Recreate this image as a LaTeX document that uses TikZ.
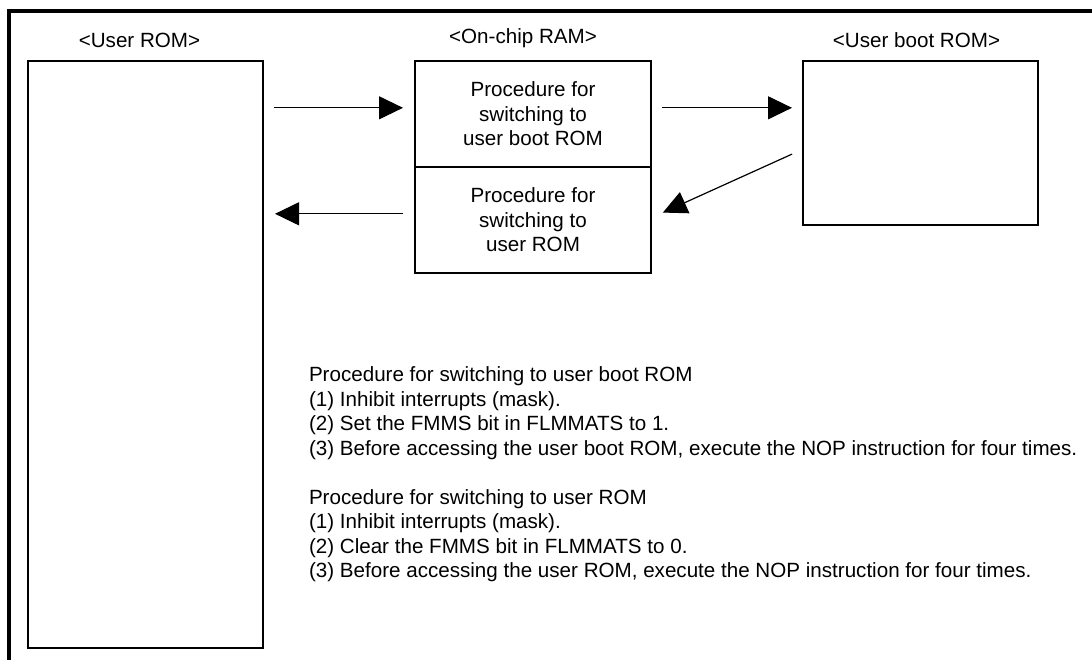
\documentclass[tikz,border=0pt]{standalone}
\usepackage{fontspec}
\setmainfont{Liberation Sans}
\usetikzlibrary{positioning,arrows.meta}

\begin{document}
\begin{tikzpicture}[
    x=1pt, y=-1pt,
    every node/.style={
        inner sep=0pt,
        outer sep=0pt,
        font=\fontsize{20.6}{24.5}\selectfont
    },
    memory/.style={
        draw,
        line width=2.5pt,
        align=center
    },
    arrow/.style={-{Triangle[length=24pt,width=23pt]}, line width=1.2pt}
]

\useasboundingbox (0,0) rectangle (1092,660);
\draw[line width=3.2pt] (9,660) -- (9,11) -- (1092,11);

\node (userrom) [memory, minimum width=235pt, minimum height=587pt,
    anchor=north west] at (28,61) {};

\node (ramboot) [memory, minimum width=236pt, minimum height=106pt,
    anchor=north west] at (415,61)
    {Procedure for\\switching to\\user boot ROM};

\node (ramuser) [memory, minimum width=236pt, minimum height=106pt,
    below=0pt of ramboot]
    {Procedure for\\switching to\\user ROM};

\node (bootrom) [memory, minimum width=235pt, minimum height=164pt,
    anchor=north west] at (803,61) {};

\node (userromlabel) [above=13pt of userrom.north, xshift=-6pt] {<User ROM>};
\node (ramlabel) [above=13pt of ramboot.north, xshift=-10pt] {<On-chip RAM>};
\node (bootromlabel) [above=13pt of bootrom.north, xshift=-4pt] {<User boot ROM>};

\node (steps) [anchor=north west, align=left] at (309,367)
    {Procedure for switching to user boot ROM\\
     (1) Inhibit interrupts (mask).\\
     (2) Set the FMMS bit in FLMMATS to 1.\\
     (3) Before accessing the user boot ROM, execute the NOP instruction for four times.\\[24.5pt]
     Procedure for switching to user ROM\\
     (1) Inhibit interrupts (mask).\\
     (2) Clear the FMMS bit in FLMMATS to 0.\\
     (3) Before accessing the user ROM, execute the NOP instruction for four times.};

\draw[arrow, shorten <=11pt, shorten >=12pt] (userrom.east |- ramboot.177) -- (ramboot.177);
\draw[arrow, shorten <=11pt, shorten >=11pt] (ramboot.3) -- (ramboot.3 -| bootrom.west);
\draw[arrow, shorten <=12pt, shorten >=13pt] (bootrom.183) -- (ramuser.1);
\draw[arrow, shorten <=12pt, shorten >=12pt] (ramuser.177) -- (userrom.east |- ramuser.177);

\end{tikzpicture}
\end{document}
